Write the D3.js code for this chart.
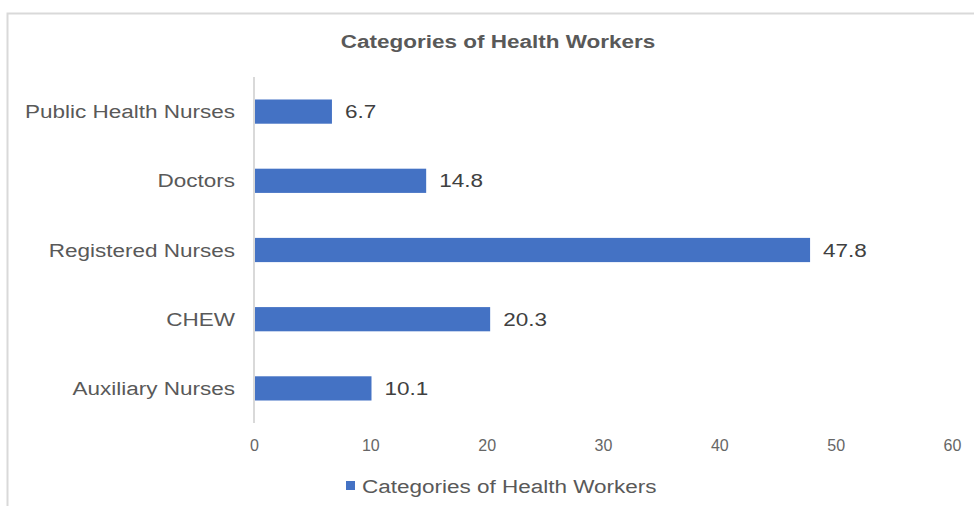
<!DOCTYPE html>
<html>
<head>
<meta charset="utf-8">
<script src="https://cdn.jsdelivr.net/npm/d3@7"></script>
<style>
  html, body { margin: 0; padding: 0; background: #fff; }
  svg { display: block; font-family: "Liberation Sans", Arial, sans-serif; }
</style>
</head>
<body>
<svg id="chart" width="974" height="506"></svg>
<script>
const categories = ["Public Health Nurses", "Doctors", "Registered Nurses", "CHEW", "Auxiliary Nurses"];
const values = [6.7, 14.8, 47.8, 20.3, 10.1];
const xTicks = [0, 10, 20, 30, 40, 50, 60];
const seriesName = "Categories of Health Workers";
const chartTitle = "Categories of Health Workers";

const svg = d3.select("#chart");
const textColor = "#595959";
const barColor = "#4472c4";
const sx = 1.25; // horizontal text stretch seen in the reference

// outer chart border (top and left visible)
svg.append("path")
  .attr("d", "M7.5,506 L7.5,13.5 L974,13.5")
  .attr("fill", "none").attr("stroke", "#d9d9d9").attr("stroke-width", 2);

const x = d3.scaleLinear().domain([0, 60]).range([254, 952]);
const y = d3.scaleBand().domain(categories).range([77, 423]).paddingInner(0.65).paddingOuter(0.325);

// title
svg.append("text")
  .attr("transform", `translate(498,48) scale(${sx},1)`)
  .attr("text-anchor", "middle")
  .attr("font-size", 18).attr("font-weight", "bold")
  .attr("fill", textColor)
  .text(chartTitle);

// bars
svg.append("g").selectAll("rect").data(values).join("rect")
  .attr("x", x(0))
  .attr("y", (d, i) => y(categories[i]))
  .attr("width", d => x(d) - x(0))
  .attr("height", y.bandwidth())
  .attr("fill", barColor);

// value labels
svg.append("g").selectAll("text").data(values).join("text")
  .attr("transform", (d, i) => `translate(${x(d) + 13},${y(categories[i]) + y.bandwidth() / 2 + 6.5}) scale(${sx},1)`)
  .attr("font-size", 18).attr("fill", "#404040")
  .text(d => d.toFixed(1));

// left axis (category labels)
const yAxis = svg.append("g").attr("transform", `translate(${x(0)},0)`)
  .call(d3.axisLeft(y).tickSize(0));
yAxis.select(".domain").remove();
yAxis.selectAll("text")
  .attr("x", null).attr("dy", null)
  .attr("transform", `translate(-19,6.5) scale(${sx},1)`)
  .attr("font-size", 18).attr("font-family", "Liberation Sans, Arial, sans-serif")
  .attr("fill", textColor);

// vertical axis line
svg.append("line")
  .attr("x1", x(0)).attr("x2", x(0))
  .attr("y1", 77).attr("y2", 423)
  .attr("stroke", "#d9d9d9").attr("stroke-width", 2);

// bottom axis (ticks)
const xAxis = svg.append("g").attr("transform", "translate(0,436)")
  .call(d3.axisBottom(x).tickValues(xTicks).tickSize(0).tickPadding(4));
xAxis.select(".domain").remove();
xAxis.selectAll("text")
  .attr("font-size", 16).attr("font-family", "Liberation Sans, Arial, sans-serif")
  .attr("fill", "#666666");

// legend
const lg = svg.append("g");
lg.append("rect").attr("x", 346).attr("y", 481).attr("width", 9).attr("height", 9).attr("fill", barColor);
lg.append("text")
  .attr("transform", `translate(362,492.5) scale(${sx},1)`)
  .attr("font-size", 18).attr("fill", textColor)
  .text(seriesName);
</script>
</body>
</html>
